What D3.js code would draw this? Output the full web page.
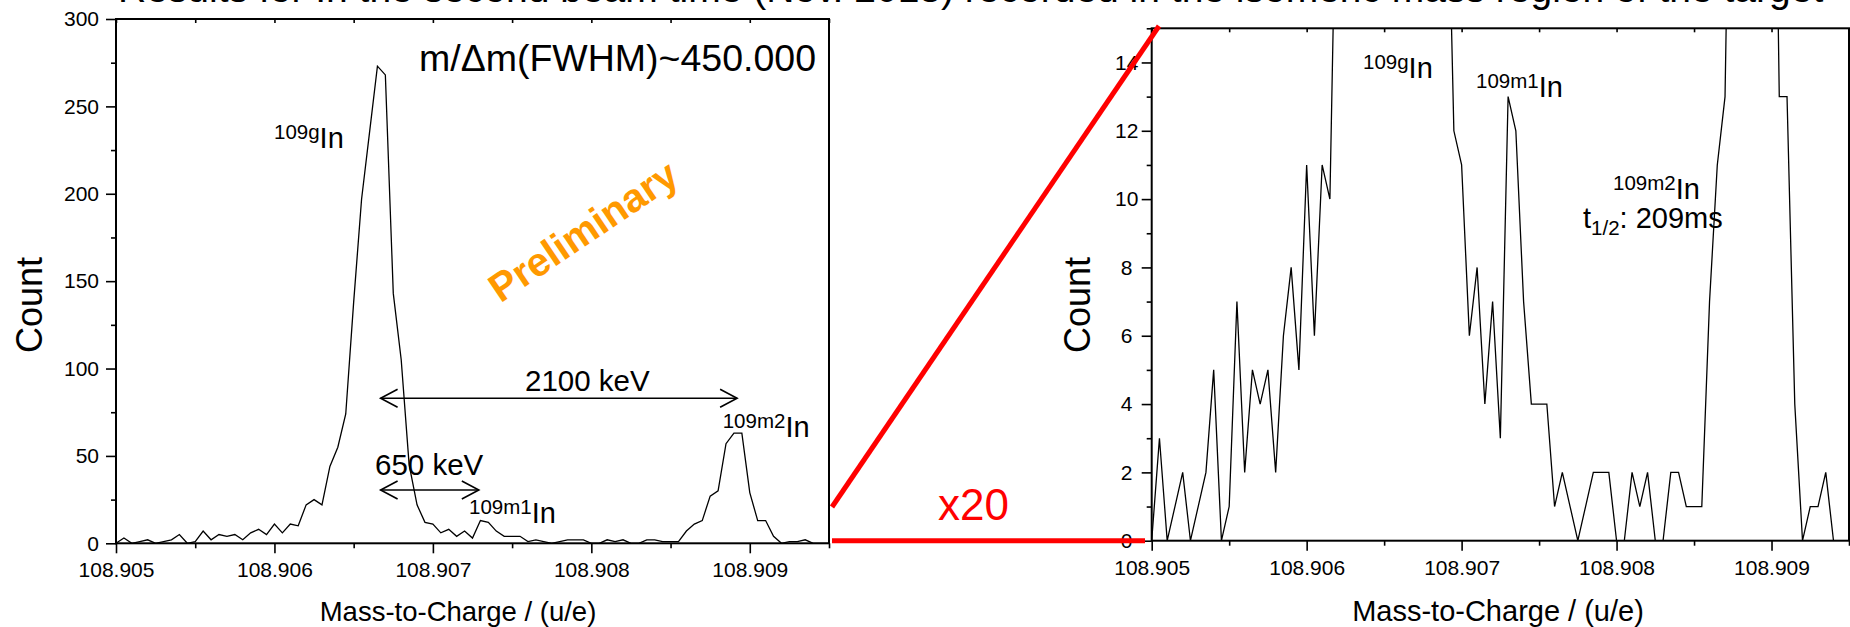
<!DOCTYPE html>
<html>
<head>
<meta charset="utf-8">
<script src="https://cdn.jsdelivr.net/npm/d3@7"></script>
<style>
  body { margin: 0; background: #fff; overflow: hidden; }
  svg { display: block; font-family: "Liberation Sans", Arial, sans-serif; }
</style>
</head>
<body>
<svg id="chart" width="1850" height="627"></svg>
<script>
// mass-to-charge bins (u/e)
const mass = [
  108.90500, 108.90505, 108.90510, 108.90515, 108.90520, 108.90525, 108.90530, 108.90535, 108.90540, 108.90545,
  108.90550, 108.90555, 108.90560, 108.90565, 108.90570, 108.90575, 108.90580, 108.90585, 108.90590, 108.90595,
  108.90600, 108.90605, 108.90610, 108.90615, 108.90620, 108.90625, 108.90630, 108.90635, 108.90640, 108.90645,
  108.90650, 108.90655, 108.90660, 108.90665, 108.90670, 108.90675, 108.90680, 108.90685, 108.90690, 108.90695,
  108.90700, 108.90705, 108.90710, 108.90715, 108.90720, 108.90725, 108.90730, 108.90735, 108.90740, 108.90745,
  108.90750, 108.90755, 108.90760, 108.90765, 108.90770, 108.90775, 108.90780, 108.90785, 108.90790, 108.90795,
  108.90800, 108.90805, 108.90810, 108.90815, 108.90820, 108.90825, 108.90830, 108.90835, 108.90840, 108.90845,
  108.90850, 108.90855, 108.90860, 108.90865, 108.90870, 108.90875, 108.90880, 108.90885, 108.90890, 108.90895,
  108.90900, 108.90905, 108.90910, 108.90915, 108.90920, 108.90925, 108.90930, 108.90935, 108.90940, 108.90945,
  108.90950
];
// counts per bin
const counts = [
  0, 3, 0, 1, 2, 0, 1, 2, 5, 0,
  1, 7, 2, 5, 4, 5, 2, 6, 8, 5,
  11, 6, 11, 10, 22, 25, 22, 44, 55, 74,
  138, 197, 235, 273, 268, 143, 105, 45, 22, 12,
  11, 6, 8, 4, 7, 3, 13, 12, 7, 4,
  4, 4, 1, 2, 1, 0, 1, 2, 2, 2,
  0, 0, 2, 1, 2, 0, 0, 2, 2, 1,
  1, 1, 7, 11, 13, 27, 30, 57, 63, 63,
  29, 13, 13, 4, 0, 1, 1, 2, 0, 0,
  0
];

const massDomain = [108.905, 108.9095];
const xTicks = [108.905, 108.906, 108.907, 108.908, 108.909];
const xMinorTicks = [108.9055, 108.9065, 108.9075, 108.9085, 108.9095];

const yTicksFull = [0, 50, 100, 150, 200, 250, 300];
const yMinorFull = [25, 75, 125, 175, 225, 275];
const yTicksZoom = [0, 2, 4, 6, 8, 10, 12, 14];
const yMinorZoom = [1, 3, 5, 7, 9, 11, 13, 15];

const svg = d3.select("#chart");

// title line of the slide, cut by the top edge
svg.append("text")
  .attr("x", 118).attr("y", 2)
  .attr("font-size", 39)
  .text("Results for In the second beam time (Nov. 2018) recorded in the isomeric mass region of the target");

function panel(opt) {
  const x = d3.scaleLinear().domain(massDomain).range([opt.left, opt.right]);
  const y = d3.scaleLinear().domain(opt.yDomain).range([opt.bottom, opt.top]);
  const g = svg.append("g");

  // data line
  const clipId = "clip" + opt.id;
  g.append("clipPath").attr("id", clipId)
    .append("rect")
    .attr("x", opt.left).attr("y", opt.top)
    .attr("width", opt.right - opt.left).attr("height", opt.bottom - opt.top);

  const line = d3.line()
    .x((d, i) => x(mass[i]))
    .y(d => y(d));

  g.append("path")
    .datum(counts)
    .attr("clip-path", `url(#${clipId})`)
    .attr("fill", "none")
    .attr("stroke", "#000")
    .attr("stroke-width", 1.3)
    .attr("stroke-linejoin", "miter")
    .attr("d", line);

  // bottom axis
  g.append("g").attr("transform", `translate(0,${opt.bottom})`)
    .call(d3.axisBottom(x).tickValues(xTicks).tickSize(10).tickPadding(9)
      .tickFormat(d3.format(".3f")).tickSizeOuter(0));
  g.append("g").attr("transform", `translate(0,${opt.bottom})`)
    .call(d3.axisBottom(x).tickValues(xMinorTicks).tickSize(5).tickFormat("").tickSizeOuter(0));

  // top axis, inner ticks
  g.append("g").attr("transform", `translate(0,${opt.top})`)
    .call(d3.axisTop(x).tickValues(xTicks.concat(xMinorTicks)).tickSize(-4).tickFormat("").tickSizeOuter(0));

  // left axis
  const ya = g.append("g").attr("transform", `translate(${opt.left},0)`)
    .call(d3.axisLeft(y).tickValues(opt.yTicks).tickSize(10).tickPadding(opt.yPad).tickSizeOuter(0));
  g.append("g").attr("transform", `translate(${opt.left},0)`)
    .call(d3.axisLeft(y).tickValues(opt.yMinor).tickSize(5).tickFormat("").tickSizeOuter(0));

  g.selectAll(".domain").remove();
  g.selectAll(".tick line").attr("stroke", "#000").attr("stroke-width", 1.6);
  g.selectAll(".tick text").attr("fill", "#000").attr("font-size", 21)
    .attr("font-family", '"Liberation Sans", Arial, sans-serif');
  if (opt.yLabelMiddle) {
    ya.selectAll(".tick text").attr("text-anchor", "middle").attr("x", -opt.yLabelMiddle);
  }

  // frame
  g.append("rect")
    .attr("x", opt.left).attr("y", opt.top)
    .attr("width", opt.right - opt.left).attr("height", opt.bottom - opt.top)
    .attr("fill", "none").attr("stroke", "#000").attr("stroke-width", 2);

  // axis titles
  g.append("text")
    .attr("transform", `translate(${opt.countX},${opt.countY}) rotate(-90)`)
    .attr("text-anchor", "middle")
    .attr("font-size", 36)
    .text("Count");
  g.append("text")
    .attr("x", opt.massX).attr("y", 621)
    .attr("text-anchor", "middle")
    .attr("font-size", opt.massSize)
    .text("Mass-to-Charge / (u/e)");

  return {x, y, g};
}

const full = panel({
  id: "full", left: 116, right: 829, top: 19, bottom: 543.3,
  yDomain: [0, 300], yTicks: yTicksFull, yMinor: yMinorFull, yPad: 7,
  countX: 42, countY: 305, massX: 458, massSize: 27.5
});

const zoom = panel({
  id: "zoom", left: 1151.7, right: 1849, top: 28.3, bottom: 540.7,
  yDomain: [0, 15], yTicks: yTicksZoom, yMinor: yMinorZoom, yPad: 8, yLabelMiddle: 25,
  countX: 1090, countY: 305, massX: 1498, massSize: 29
});

function isotope(x, y, sup) {
  const t = svg.append("text").attr("x", x).attr("y", y).attr("font-size", 29);
  t.append("tspan").attr("font-size", 20.5).attr("dy", -9).text(sup);
  t.append("tspan").attr("dy", 9).text("In");
  return t;
}

// left panel annotations
svg.append("text").attr("x", 419).attr("y", 71).attr("font-size", 37.5)
  .text("m/\u0394m(FWHM)~450.000");
isotope(274, 148, "109g");
isotope(469, 522.7, "109m1");
isotope(722.7, 436.7, "109m2");

svg.append("text")
  .attr("transform", "translate(583,231) rotate(-34)")
  .attr("text-anchor", "middle").attr("dy", "0.35em")
  .attr("font-size", 40).attr("font-weight", "bold")
  .attr("fill", "#ff9900")
  .text("Preliminary");

function arrow(x1, x2, yv, label, tx, ty) {
  const px1 = full.x(x1), px2 = full.x(x2), py = full.y(yv);
  const a = svg.append("g").attr("stroke", "#000").attr("stroke-width", 1.6).attr("fill", "none");
  a.append("line").attr("x1", px1).attr("x2", px2).attr("y1", py).attr("y2", py);
  a.append("path").attr("d", `M${px1 + 17},${py - 9}L${px1},${py}L${px1 + 17},${py + 9}`);
  a.append("path").attr("d", `M${px2 - 17},${py - 9}L${px2},${py}L${px2 - 17},${py + 9}`);
  svg.append("text").attr("x", tx).attr("y", ty).attr("font-size", 29.5).text(label);
}
arrow(108.90667, 108.90892, 83, "2100 keV", 525, 390.7);
arrow(108.90667, 108.90729, 30.5, "650 keV", 375, 475);

// right panel annotations
isotope(1363, 78.3, "109g");
isotope(1476, 96.7, "109m1");
isotope(1613, 199, "109m2");
const th = svg.append("text").attr("x", 1583).attr("y", 228).attr("font-size", 29);
th.append("tspan").text("t");
th.append("tspan").attr("font-size", 20.5).attr("dy", 7).text("1/2");
th.append("tspan").attr("dy", -7).text(": 209ms");

// red magnification guides
const red = svg.append("g").attr("stroke", "#ff0000").attr("stroke-width", 5).attr("fill", "none");
red.append("line").attr("x1", 832).attr("y1", 507).attr("x2", 1159).attr("y2", 26);
red.append("line").attr("x1", 832).attr("y1", zoom.y(0)).attr("x2", 1145).attr("y2", zoom.y(0));
svg.append("text").attr("x", 938).attr("y", 520).attr("font-size", 44).attr("fill", "#ff0000").text("x20");
</script>
</body>
</html>
